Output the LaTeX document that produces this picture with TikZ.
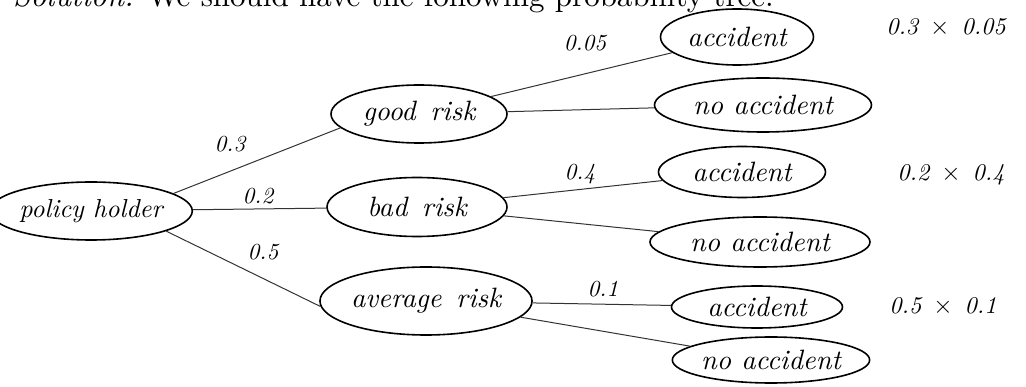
\documentclass[tikz,border=0pt]{standalone}
\usepackage{fontspec}
\setmainfont{lmroman10-regular.otf}[ItalicFont=lmroman10-italic.otf]
\usetikzlibrary{shapes.geometric}
\begin{document}
\begin{tikzpicture}[x=1pt,y=-1pt,
  bub/.style={draw, ellipse, line width=1.6pt, inner sep=0pt, font=\fontsize{28}{30}\selectfont\itshape},
  conn/.style={line width=1pt, black!80},
  prob/.style={font=\fontsize{23}{25}\selectfont\itshape},
  prod/.style={font=\fontsize{24}{26}\selectfont\itshape}]
\useasboundingbox (0,0) rectangle (1026,387);
\node[anchor=base west, inner sep=0pt, font=\fontsize{31}{33}\selectfont] (title) at (13,7) {\textit{Solution.} We should have the following probability tree.};
\node[bub, minimum width=172pt, minimum height=58pt, font=\fontsize{26}{28}\selectfont\itshape] (ph) at (91,211) {policy holder};
\node[bub, minimum width=176pt, minimum height=58pt] (good) at (419,114) {good\, risk};
\node[bub, minimum width=180pt, minimum height=59pt] (bad) at (417,207) {bad\, risk};
\node[bub, minimum width=208pt, minimum height=68pt] (avg) at (426,301) {average\, risk};
\node[bub, minimum width=153pt, minimum height=56pt] (a1) at (737,37) {accident};
\node[bub, minimum width=217pt, minimum height=54pt] (n1) at (763,105) {no accident};
\node[bub, minimum width=167pt, minimum height=51pt] (a2) at (742,172) {accident};
\node[bub, minimum width=220pt, minimum height=50pt] (n2) at (760,242) {no accident};
\node[bub, minimum width=171pt, minimum height=42pt] (a3) at (757,307) {accident};
\node[bub, minimum width=197pt, minimum height=46pt] (n3) at (771,360) {no accident};
\draw[conn] (ph.12) -- (good.190);
\draw[conn] (ph) -- (bad);
\draw[conn] (ph.-15) -- (avg.183);
\draw[conn] (good) -- (a1);
\draw[conn] (good) -- (n1);
\draw[conn] (bad) -- (a2);
\draw[conn] (bad) -- (n2);
\draw[conn] (avg) -- (a3);
\draw[conn] (avg) -- (n3);
\node[prob] (l1) at (230,144) {0.3};
\node[prob] (l2) at (258,196) {0.2};
\node[prob] (l3) at (263,252) {0.5};
\node[prob] (l4) at (585,43) {0.05};
\node[prob] (l5) at (580,174) {0.4};
\node[prob] (l6) at (603,289) {0.1};
\node[prod] (p1) at (946,28) {0.3\enspace$\times$\enspace0.05};
\node[prod] (p2) at (951,175) {0.2\enspace$\times$\enspace0.4};
\node[prod] (p3) at (943,307) {0.5\enspace$\times$\enspace0.1};
\end{tikzpicture}
\end{document}
